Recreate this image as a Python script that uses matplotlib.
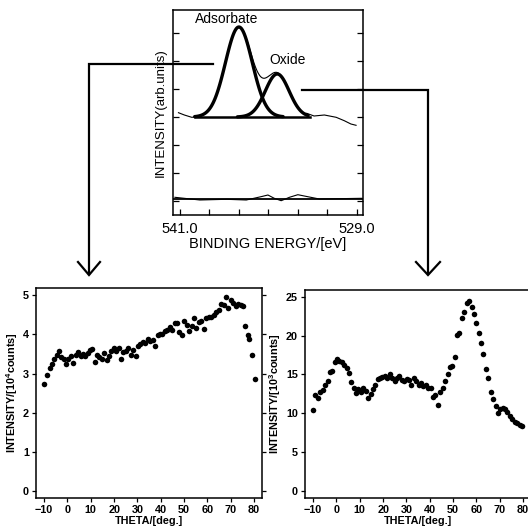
import numpy as np
import matplotlib
matplotlib.use("Agg")
import matplotlib.pyplot as plt
from matplotlib.lines import Line2D
from matplotlib.ticker import MultipleLocator

plt.rcParams['font.family'] = ['Liberation Sans', 'DejaVu Sans']
plt.rcParams['mathtext.fontset'] = 'custom'
plt.rcParams['mathtext.bf'] = 'Liberation Sans:bold'
plt.rcParams['mathtext.rm'] = 'Liberation Sans'

#%% data - XPS spectrum (top)
peak_names = ["Adsorbate", "Oxide"]
peak_centers = [537.0, 534.4]      # eV
peak_heights = [90.0, 43.0]
peak_fwhm = [2.14, 1.9]
peak_from = [540.0, 537.1]
peak_to = [534.0, 532.3]

left_tail_ev = [541.1, 540.7, 540.2, 539.6]
left_tail_int = [4.3, 2.0, -0.3, 0.3]
right_tail_ev = [532.4, 531.9, 531.2, 530.4, 529.85, 529.4, 529.05]
right_tail_int = [3.7, 1.0, 2.0, -0.3, -3.7, -7.0, -8.3]

resid_ev = [541.34, 539.65, 537.85, 536.5, 535.5, 535.03, 534.6, 534.13,
            533.57, 533.0, 532.33, 531.54, 528.65]
resid_int = [-80.3, -83.0, -82.3, -83.0, -79.7, -78.0, -81.3, -83.7,
             -80.3, -77.7, -79.7, -82.0, -81.3]
resid_zero = -81.5

#%% data - angular scans (bottom)
theta_ads = [-9.9, -8.8, -7.7, -6.6, -5.6, -4.7, -3.6, -2.6, -1.6, -0.6,
             0.4, 1.4, 2.5, 3.5, 4.5, 5.6, 6.6, 7.6, 8.6, 9.6,
             10.6, 11.6, 12.6, 13.7, 14.7, 15.7, 16.8, 17.8, 18.8, 19.9,
             20.9, 22.0, 23.0, 24.0, 25.1, 26.1, 27.2, 28.2, 29.2, 30.3,
             31.3, 32.4, 33.4, 34.5, 35.5, 36.5, 37.6, 38.6, 39.7, 40.7,
             41.8, 42.8, 43.9, 44.9, 46.0, 47.0, 48.0, 49.1, 50.1, 51.2,
             52.2, 53.3, 54.3, 55.3, 56.4, 57.4, 58.5, 59.5, 60.6, 61.6,
             62.7, 63.7, 64.8, 65.8, 66.9, 67.9, 69.0, 70.0, 71.1, 72.1,
             73.2, 74.2, 75.3, 76.3, 77.4, 77.9, 79.2, 80.3]
int_ads = [2.74, 2.97, 3.15, 3.24, 3.37, 3.47, 3.58, 3.43, 3.38, 3.25,
           3.36, 3.46, 3.28, 3.47, 3.56, 3.46, 3.50, 3.45, 3.52, 3.60,
           3.62, 3.30, 3.47, 3.41, 3.36, 3.52, 3.34, 3.44, 3.58, 3.64,
           3.57, 3.66, 3.36, 3.55, 3.58, 3.64, 3.47, 3.60, 3.46, 3.71,
           3.76, 3.81, 3.78, 3.87, 3.83, 3.86, 3.69, 3.98, 4.02, 4.00,
           4.08, 4.12, 4.18, 4.10, 4.30, 4.28, 4.05, 3.99, 4.35, 4.25,
           4.08, 4.20, 4.41, 4.15, 4.32, 4.34, 4.13, 4.41, 4.44, 4.45,
           4.50, 4.58, 4.62, 4.78, 4.74, 4.95, 4.66, 4.88, 4.80, 4.72,
           4.78, 4.75, 4.73, 4.22, 3.98, 3.88, 3.48, 2.86]

theta_ox = [-10.0, -9.0, -8.0, -6.9, -5.9, -4.8, -3.8, -2.8, -1.8, -0.8,
            0.2, 1.2, 2.2, 3.3, 4.3, 5.3, 6.4, 7.4, 8.4, 9.4,
            10.5, 11.5, 12.5, 13.6, 14.6, 15.6, 16.6, 17.7, 18.7, 19.7,
            20.8, 21.8, 22.8, 23.9, 24.9, 25.9, 27.0, 28.0, 29.0, 30.1,
            31.1, 32.1, 33.1, 34.2, 35.2, 36.2, 37.3, 38.3, 39.3, 40.4,
            41.4, 42.4, 43.5, 44.5, 45.5, 46.5, 47.6, 48.6, 49.6, 50.7,
            51.7, 52.7, 53.8, 54.8, 55.8, 56.8, 57.9, 58.9, 59.9, 61.0,
            62.0, 63.0, 64.1, 65.1, 66.1, 67.1, 68.2, 69.2, 70.2, 71.3,
            72.3, 73.3, 74.4, 75.4, 76.4, 77.5, 78.5, 79.5]
int_ox = [10.4, 12.4, 12.0, 12.7, 13.0, 13.7, 14.2, 15.3, 15.5, 16.6,
          17.0, 16.7, 16.6, 16.2, 15.8, 15.2, 14.0, 13.2, 12.6, 13.1,
          12.8, 13.2, 12.9, 12.0, 12.5, 13.1, 13.7, 14.4, 14.6, 14.7,
          14.8, 14.6, 15.1, 14.5, 14.2, 14.6, 14.8, 14.3, 14.2, 14.4,
          14.3, 13.7, 14.6, 14.2, 13.7, 13.9, 13.5, 13.6, 13.3, 13.3,
          12.1, 12.4, 11.0, 12.7, 13.3, 14.2, 15.0, 16.0, 16.1, 17.3,
          20.1, 20.3, 22.3, 23.0, 24.2, 24.5, 23.7, 22.8, 21.6, 20.4,
          19.1, 17.7, 15.7, 14.6, 12.8, 11.8, 10.9, 10.0, 10.6, 10.7,
          10.5, 10.1, 9.6, 9.2, 8.9, 8.7, 8.5, 8.4]


def gauss(x, c, h, fwhm):
    s = fwhm / 2.3548
    return h * np.exp(-0.5 * ((x - c) / s) ** 2)


W = 528.0


def fbox(l, t, r, b):
    # pixel box -> figure fraction rect
    return [l / W, 1 - b / W, (r - l) / W, (b - t) / W]


fig = plt.figure(figsize=(5.28, 5.28), dpi=100)

#%% top panel
ax0 = fig.add_axes(fbox(173.3, 10, 362.7, 215))
ax0.set_xlim(541.45, 528.6)
ax0.set_ylim(-98, 107)

# measured spectrum (thin)
ev_mid = np.linspace(539.5, 532.6, 140)
env = sum(gauss(ev_mid, c, h, w) for c, h, w in zip(peak_centers, peak_heights, peak_fwhm))
ev_all = np.concatenate([left_tail_ev, ev_mid, right_tail_ev])
int_all = np.concatenate([left_tail_int, env, right_tail_int])
ax0.plot(ev_all, int_all, color="black", lw=0.8)

# fitted components (thick)
for c, h, w, a, b in zip(peak_centers, peak_heights, peak_fwhm, peak_from, peak_to):
    xx = np.linspace(a, b, 120)
    ax0.plot(xx, gauss(xx, c, h, w), color="black", lw=2.4, solid_capstyle="round")
ax0.plot([540.0, 532.2], [0, 0], color="black", lw=1.8)

# residual
ax0.axhline(resid_zero, color="black", lw=1.3)
ax0.plot(resid_ev, resid_int, color="black", lw=0.8)

ax0.text(537.8, 98, peak_names[0], ha="center", va="center", fontsize=10)
ax0.text(533.7, 57, peak_names[1], ha="center", va="center", fontsize=10)

ax0.set_xticks(np.arange(541, 528.9, -2))
ax0.set_xticklabels(["541.0", "", "", "", "", "", "529.0"], fontsize=10.5)
ax0.yaxis.set_major_locator(MultipleLocator(28))
ax0.tick_params(axis="both", direction="in", length=4, width=0.9,
                top=False, right=True, labelleft=False, pad=5)
ax0.set_xlabel("BINDING ENERGY/[eV]", fontsize=10.5, labelpad=1)
ax0.set_ylabel("INTENSITY(arb.units)", fontsize=9.5, labelpad=5)
for sp in ax0.spines.values():
    sp.set_linewidth(1.1)

#%% bottom panels
def scan_axes(rect, x, y, ylim, yticks, ylabel):
    ax = fig.add_axes(rect)
    ax.plot(x, y, "o", color="black", ms=4.0, mec="none")
    ax.set_xlim(-13.5, 83.4)
    ax.set_ylim(*ylim)
    ax.set_xticks(np.arange(-10, 81, 10))
    ax.set_yticks(yticks)
    ax.tick_params(axis="both", direction="out", length=3, width=0.9,
                   labelsize=7.8, pad=2)
    ax.tick_params(axis="y", right=True)
    for lab in ax.get_xticklabels() + ax.get_yticklabels():
        lab.set_fontweight("bold")
    ax.set_xlabel("THETA/[deg.]", fontsize=7.8, fontweight="bold", labelpad=1)
    ax.set_ylabel(ylabel, fontsize=7.8, fontweight="bold", labelpad=2)
    for sp in ax.spines.values():
        sp.set_linewidth(1.1)
    return ax


ax1 = scan_axes(fbox(36, 288, 262, 498), theta_ads, int_ads, (-0.17, 5.18),
                [0, 1, 2, 3, 4, 5], r"INTENSITY/[10$^\mathbf{4}$counts]")
ax2 = scan_axes(fbox(305, 290, 531, 498), theta_ox, int_ox, (-0.94, 25.9),
                [0, 5, 10, 15, 20, 25], r"INTENSITY/[10$^\mathbf{3}$counts]")

#%% connecting arrows (figure pixel coords)
def fline(xs, ys, lw=1.6):
    fig.add_artist(Line2D([v / W for v in xs], [1 - v / W for v in ys],
                          transform=fig.transFigure, color="black", lw=lw,
                          solid_joinstyle="miter", zorder=10))


fline([213, 89, 89], [64, 64, 274])
fline([78, 89, 100], [262, 275, 262])
fline([302, 428, 428], [90, 90, 274])
fline([416, 428, 440], [262, 275, 262])

fig.savefig("out.png", dpi=100)
